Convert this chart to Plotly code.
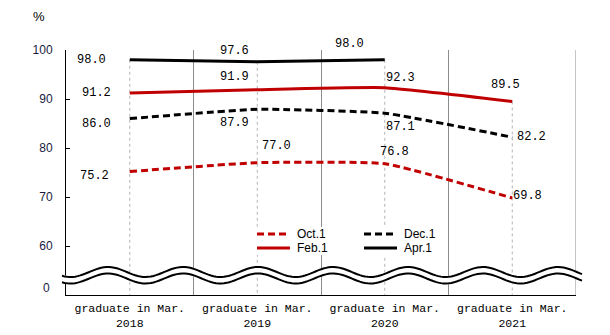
import numpy as np
import plotly.graph_objects as go

# ---- data ----
categories = ["2018", "2019", "2020", "2021"]
cat_prefix = "graduate in Mar."
series_names = ["Oct.1", "Dec.1", "Feb.1", "Apr.1"]
oct1 = [75.2, 77.0, 76.8, 69.8]
dec1 = [86.0, 87.9, 87.1, 82.2]
feb1 = [91.2, 91.9, 92.3, 89.5]
apr1 = [98.0, 97.6, 98.0, None]
y_ticks = [60, 70, 80, 90, 100]
y_break_label = "0"

# ---- styles ----
RED = "#C00000"
BLACK = "#000000"
styles = {
    "Oct.1": dict(color=RED, dash="7px,4px"),
    "Dec.1": dict(color=BLACK, dash="7px,4px"),
    "Feb.1": dict(color=RED, dash="solid"),
    "Apr.1": dict(color=BLACK, dash="solid"),
}
# legend slot (pixel) per series: sample start x, row y
legend_slots = {
    "Oct.1": (257, 234), "Dec.1": (364, 234),
    "Feb.1": (257, 248), "Apr.1": (364, 248),
}
# label pixel offsets (dx, dy down) per series per category
label_offsets = {
    "Oct.1": [(-35, 4), (19, -17), (10, -12), (15, -2)],
    "Dec.1": [(-33, 5), (-23, 14), (16, 14), (19, 0)],
    "Feb.1": [(-33, 0), (-23, -13), (16, -10), (-7, -16)],
    "Apr.1": [(-38, 0), (-23, -11), (-35, -16), (0, 0)],
}

W, H = 610, 335
L, R, T, B = 66, 34, 50, 40
PW, PH = W - L - R, H - T - B
YMIN, YMAX = 50, 100

def px2paper(px, py):
    return (px - L) / PW, (H - B - py) / PH

xs = list(range(len(categories)))
data = {"Oct.1": oct1, "Dec.1": dec1, "Feb.1": feb1, "Apr.1": apr1}

fig = go.Figure()
for name in series_names:
    st = styles[name]
    fig.add_trace(go.Scatter(
        x=xs, y=data[name], name=name, mode="lines",
        line=dict(color=st["color"], width=3, dash=st["dash"], shape="spline", smoothing=0.4),
        showlegend=False,
    ))

# data labels
mono = "Liberation Mono, DejaVu Sans Mono, monospace"
sans = "Liberation Sans, Arial, sans-serif"
for name in series_names:
    for i, v in enumerate(data[name]):
        if v is None:
            continue
        dx, dy = label_offsets[name][i]
        fig.add_annotation(x=xs[i], y=v, xref="x", yref="y", text=f"{v:.1f}",
                           showarrow=False, xshift=dx, yshift=-dy,
                           font=dict(family=mono, size=12, color="black"))

shapes = []
# drop lines from top value to the bottom
for i in xs:
    vals = [data[n][i] for n in series_names if data[n][i] is not None]
    shapes.append(dict(type="line", xref="x", yref="y", x0=i, x1=i, y0=max(vals), y1=YMIN,
                       line=dict(color="#b4b4b4", width=1, dash="dot"), layer="below"))
# right border gridline
shapes.append(dict(type="line", xref="x", yref="y", x0=len(xs) - 0.5, x1=len(xs) - 0.5,
                   y0=YMIN, y1=YMAX, line=dict(color="#8c8c8c", width=1), layer="below"))

# axis break wave
P = 75.0
xw = np.linspace(62, 582, 200)
upper = 272 - 5 * np.cos(2 * np.pi * (xw - 108) / P)
lower = upper + 6.5
def pth(xa, ya):
    pts = [px2paper(a, b) for a, b in zip(xa, ya)]
    return "M " + " L ".join(f"{a:.5f},{b:.5f}" for a, b in pts)
fill_path = pth(np.concatenate([xw, xw[::-1]]), np.concatenate([upper - 1, (lower + 1)[::-1]])) + " Z"
shapes.append(dict(type="path", xref="paper", yref="paper", path=fill_path,
                   fillcolor="white", line=dict(width=0), layer="above"))
for yy in (upper, lower):
    shapes.append(dict(type="path", xref="paper", yref="paper", path=pth(xw, yy),
                       line=dict(color="black", width=2), layer="above"))

# legend (drawn manually for exact compact row spacing)
bx0, by0 = px2paper(252, 227)
bx1, by1 = px2paper(440, 255)
shapes.append(dict(type="rect", xref="paper", yref="paper", x0=bx0, x1=bx1, y0=by1, y1=by0,
                   fillcolor="white", line=dict(width=0), layer="above"))
for name in series_names:
    sx, sy = legend_slots[name]
    st = styles[name]
    a0, b0 = px2paper(sx, sy)
    a1, _ = px2paper(sx + 33, sy)
    shapes.append(dict(type="line", xref="paper", yref="paper", x0=a0, x1=a1, y0=b0, y1=b0,
                       line=dict(color=st["color"], width=3, dash=st["dash"]), layer="above"))
    tx, _ = px2paper(sx + 38, sy)
    fig.add_annotation(x=tx, y=b0, xref="paper", yref="paper", text=name, showarrow=False,
                       xanchor="left", yanchor="middle",
                       font=dict(family=sans, size=12, color="black"))

fig.update_layout(shapes=shapes)

# "0" label and "%" title
fig.add_annotation(x=px2paper(52, 0)[0], y=px2paper(0, 288)[1], xref="paper", yref="paper",
                   text=y_break_label, showarrow=False, xanchor="right", yanchor="middle",
                   font=dict(family=sans, size=12, color="#1a1a40"))
fig.add_annotation(x=px2paper(39, 0)[0], y=px2paper(0, 17)[1], xref="paper", yref="paper",
                   text="%", showarrow=False, xanchor="center", yanchor="middle",
                   font=dict(family=sans, size=13, color="black"))

fig.update_layout(
    width=W, height=H, margin=dict(l=L, r=R, t=T, b=B, autoexpand=False),
    paper_bgcolor="white", plot_bgcolor="white", showlegend=False,
    xaxis=dict(range=[-0.5, len(categories) - 0.5], tickmode="array", tickvals=xs,
               ticktext=[f"{cat_prefix}<br>{c}" for c in categories],
               showgrid=False, showline=True, linecolor="black", linewidth=1,
               ticks="", zeroline=False, automargin=False, ticklabelstandoff=2,
               tickfont=dict(family=mono, size=11.5, color="black"),
               minor=dict(tickmode="array", tickvals=[i + 0.5 for i in xs], showgrid=True,
                          gridcolor="#8c8c8c", gridwidth=1, ticks="")),
    yaxis=dict(range=[YMIN, YMAX], tickmode="array", tickvals=y_ticks,
               ticktext=[str(t) for t in y_ticks], showgrid=False, zeroline=False,
               showline=True, linecolor="black", linewidth=1, automargin=False,
               ticks="inside", ticklen=4, tickcolor="black", ticklabelstandoff=10,
               tickfont=dict(family=sans, size=12, color="#1a1a40")),
)

fig.write_html("out.html")
